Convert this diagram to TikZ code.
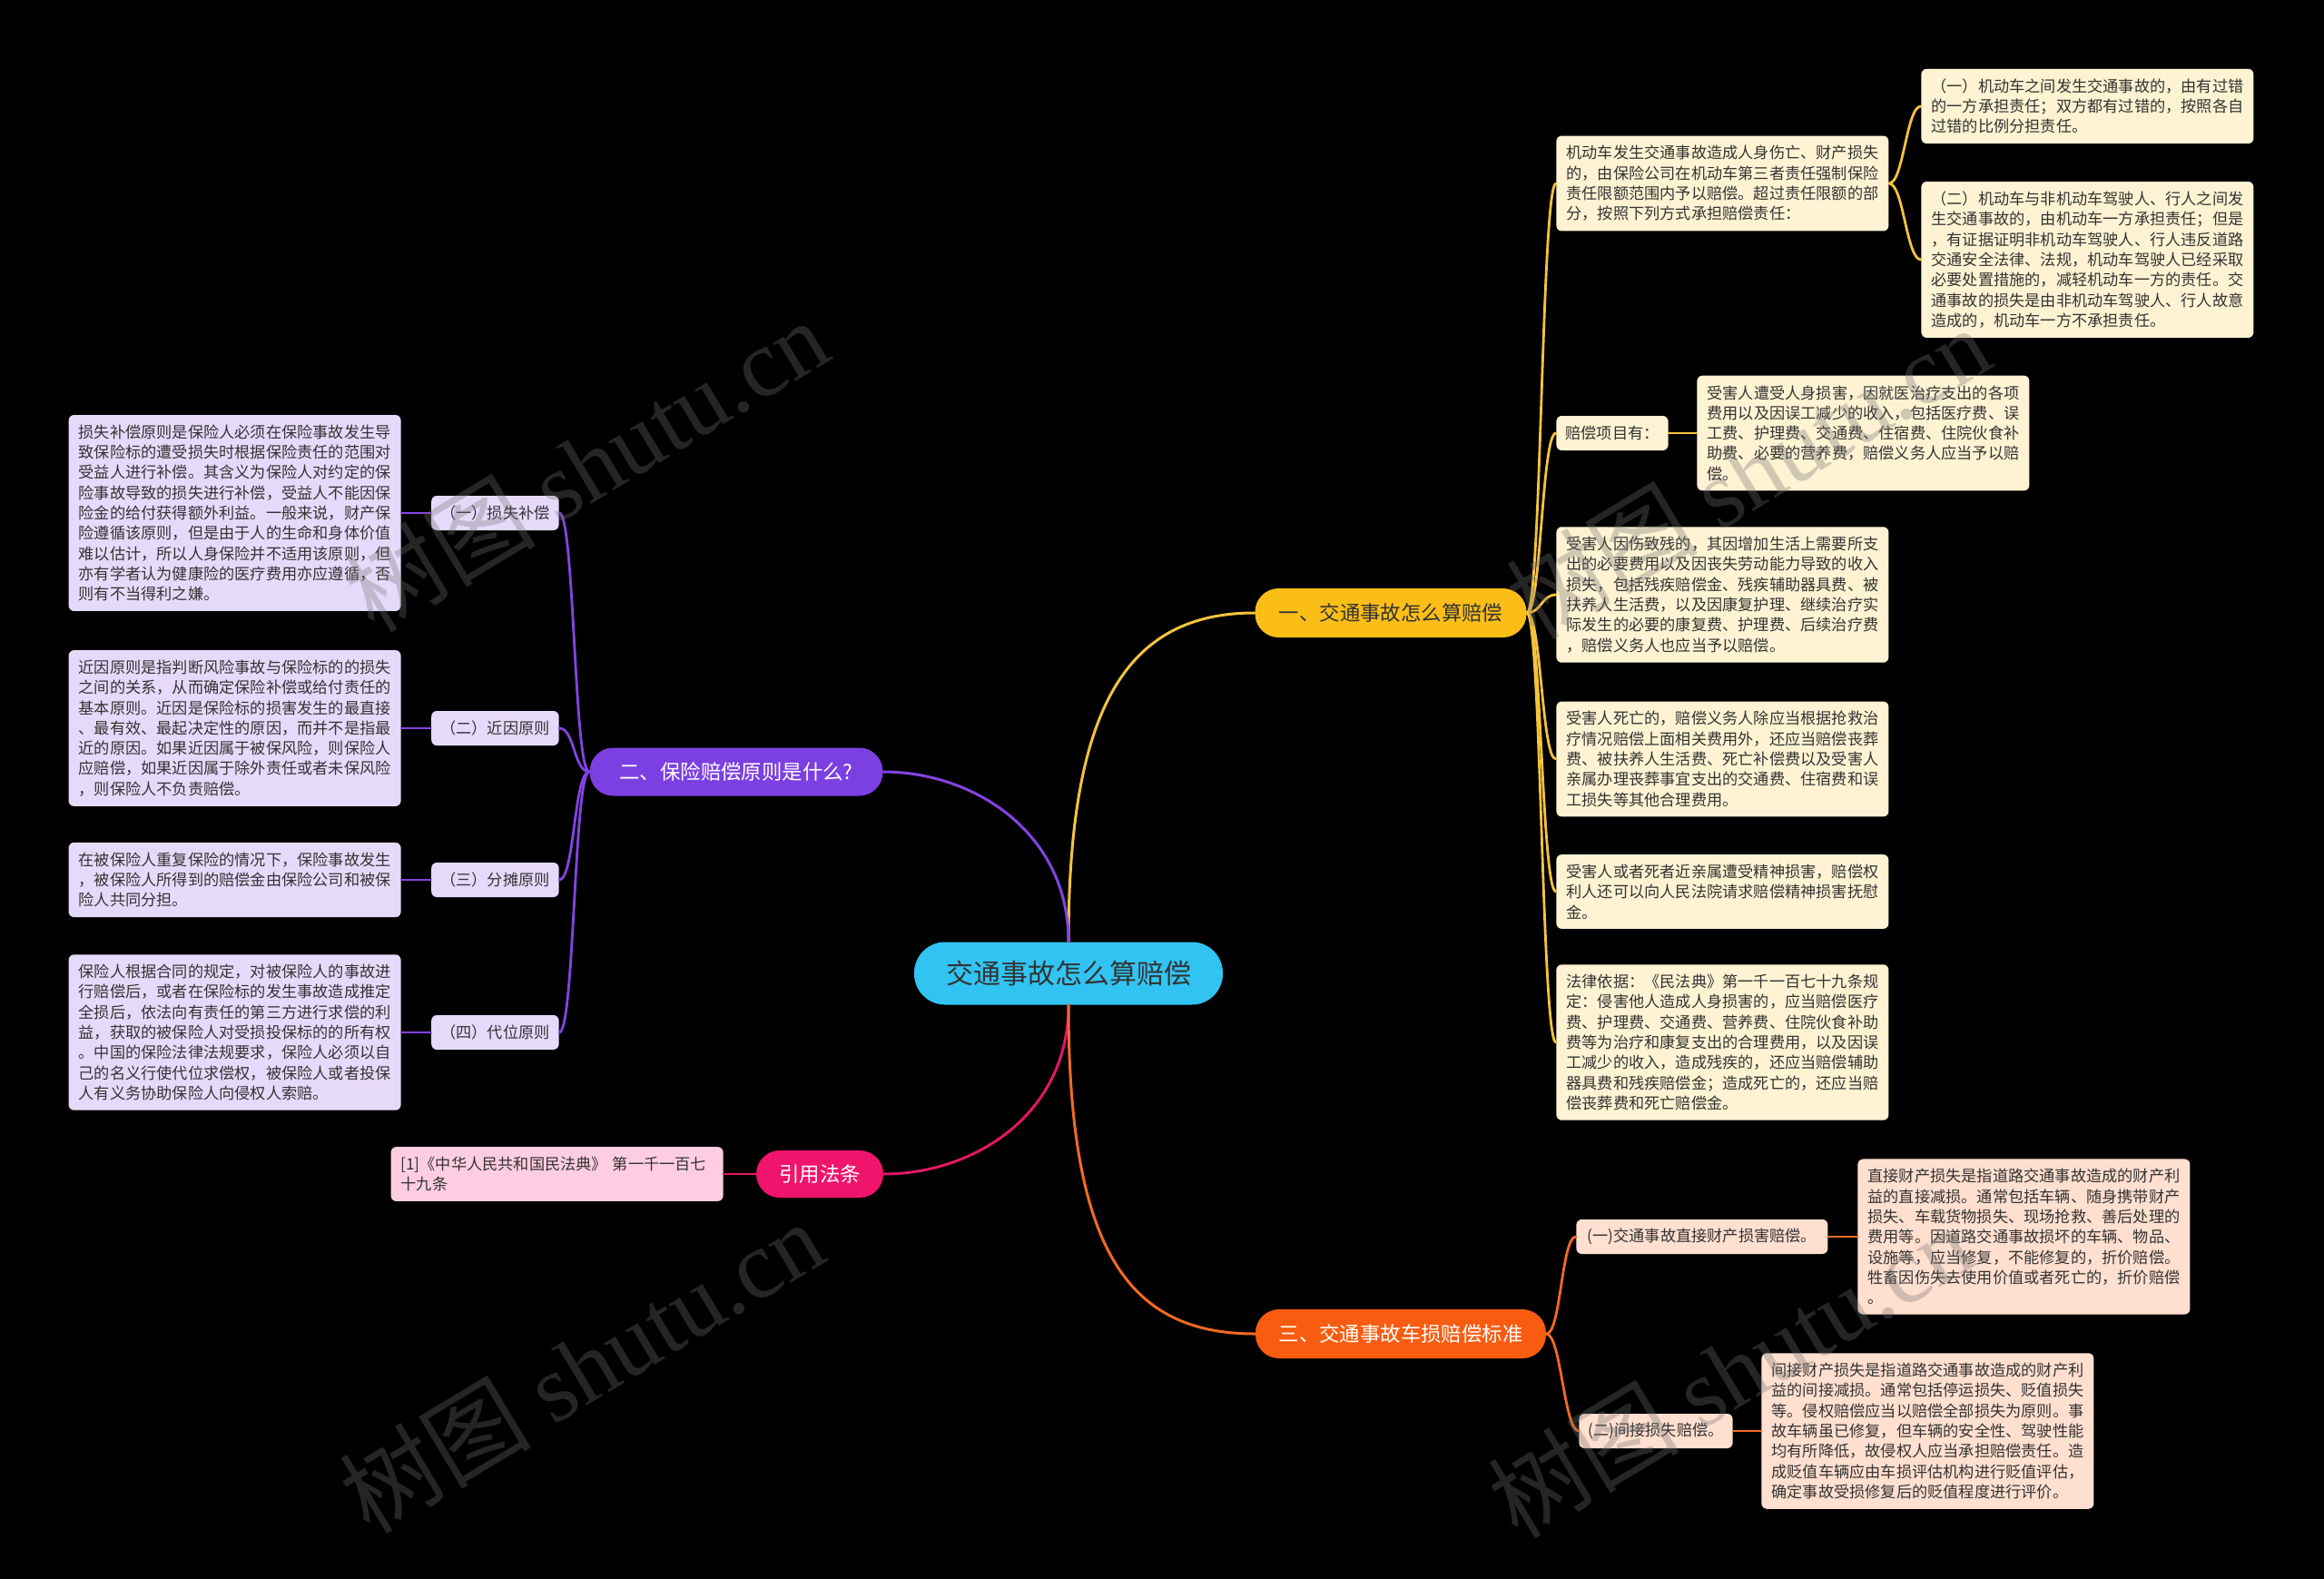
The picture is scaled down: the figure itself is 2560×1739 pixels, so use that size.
\documentclass[tikz,border=0pt]{standalone}
\usepackage{fontspec}
\setmainfont{Noto Sans CJK SC}
\newfontfamily\wmlatin{Liberation Serif}
\definecolor{cc}{HTML}{31C4F3}
\definecolor{yA}{HTML}{FBBE17}
\definecolor{yL}{HTML}{F5C33C}
\definecolor{yF}{HTML}{FFF3D3}
\definecolor{pA}{HTML}{7C3FE2}
\definecolor{pL}{HTML}{8443E3}
\definecolor{pF}{HTML}{E6DAFA}
\definecolor{rA}{HTML}{F0146C}
\definecolor{rL}{HTML}{E21864}
\definecolor{rF}{HTML}{FFCDE1}
\definecolor{oA}{HTML}{F95C10}
\definecolor{oL}{HTML}{F26A22}
\definecolor{oF}{HTML}{FFDFCF}
\definecolor{td}{HTML}{333333}
\begin{document}
\begin{tikzpicture}[x=0.5pt,y=-0.5pt,
  detail/.style={rounded corners=3pt, align=left, text width=172pt, inner xsep=5.5pt, inner ysep=5.4pt, font=\fontsize{8.6pt}{11.15pt}\selectfont, text=td},
  lbl/.style={rounded corners=3pt, inner xsep=5pt, inner ysep=0pt, minimum height=19pt, font=\fontsize{8.6pt}{10pt}\selectfont, text=td},
  mainbox/.style={inner sep=0pt},
  brfont/.style={font=\fontsize{11.2pt}{12pt}\selectfont},
  conn/.style={line width=1.5pt, line cap=round},
  sub/.style={line width=1.4pt, line cap=round},
  wm/.style={rotate=31, text=white!45!black, text opacity=0.33, font=\fontsize{53pt}{53pt}\selectfont}]
\fill[black] (0,0) rectangle (2560,1739);
\useasboundingbox (0,0) rectangle (2560,1739);

% main nodes
\node[mainbox, fill=cc, minimum width=170pt, minimum height=34.5pt, rounded corners=17pt, font=\fontsize{15pt}{15pt}\selectfont, text=td] (C) at (1177,1072) {交通事故怎么算赔偿};
\node[mainbox, brfont, fill=yA, minimum width=149.5pt, minimum height=27pt, rounded corners=13pt, text=td] (B1) at (1532,675) {一、交通事故怎么算赔偿};
\node[mainbox, brfont, fill=pA, minimum width=161.5pt, minimum height=26.5pt, rounded corners=13pt, text=white] (B2) at (811,850) {二、保险赔偿原则是什么?};
\node[mainbox, brfont, fill=rA, minimum width=70pt, minimum height=26pt, rounded corners=13pt, text=white] (B3) at (903,1293) {引用法条};
\node[mainbox, brfont, fill=oA, minimum width=160pt, minimum height=27pt, rounded corners=13pt, text=white] (B4) at (1543,1469) {三、交通事故车损赔偿标准};

% branch 1
\node[detail, fill=yF, anchor=west] (c11) at (1714,202) {机动车发生交通事故造成人身伤亡、财产损失\\的，由保险公司在机动车第三者责任强制保险\\责任限额范围内予以赔偿。超过责任限额的部\\分，按照下列方式承担赔偿责任：};
\node[detail, fill=yF, anchor=west] (c111) at (2116,117) {（一）机动车之间发生交通事故的，由有过错\\的一方承担责任；双方都有过错的，按照各自\\过错的比例分担责任。};
\node[detail, fill=yF, anchor=west] (c112) at (2116,286) {（二）机动车与非机动车驾驶人、行人之间发\\生交通事故的，由机动车一方承担责任；但是\\，有证据证明非机动车驾驶人、行人违反道路\\交通安全法律、法规，机动车驾驶人已经采取\\必要处置措施的，减轻机动车一方的责任。交\\通事故的损失是由非机动车驾驶人、行人故意\\造成的，机动车一方不承担责任。};
\node[lbl, fill=yF, anchor=west] (c12) at (1714,477) {赔偿项目有：};
\node[detail, fill=yF, anchor=west] (c121) at (1869,477) {受害人遭受人身损害，因就医治疗支出的各项\\费用以及因误工减少的收入，包括医疗费、误\\工费、护理费、交通费、住宿费、住院伙食补\\助费、必要的营养费，赔偿义务人应当予以赔\\偿。};
\node[detail, fill=yF, anchor=west] (c13) at (1714,655) {受害人因伤致残的，其因增加生活上需要所支\\出的必要费用以及因丧失劳动能力导致的收入\\损失，包括残疾赔偿金、残疾辅助器具费、被\\扶养人生活费，以及因康复护理、继续治疗实\\际发生的必要的康复费、护理费、后续治疗费\\，赔偿义务人也应当予以赔偿。};
\node[detail, fill=yF, anchor=west] (c14) at (1714,836) {受害人死亡的，赔偿义务人除应当根据抢救治\\疗情况赔偿上面相关费用外，还应当赔偿丧葬\\费、被扶养人生活费、死亡补偿费以及受害人\\亲属办理丧葬事宜支出的交通费、住宿费和误\\工损失等其他合理费用。};
\node[detail, fill=yF, anchor=west] (c15) at (1714,982) {受害人或者死者近亲属遭受精神损害，赔偿权\\利人还可以向人民法院请求赔偿精神损害抚慰\\金。};
\node[detail, fill=yF, anchor=west] (c16) at (1714,1148) {法律依据：《民法典》第一千一百七十九条规\\定：侵害他人造成人身损害的，应当赔偿医疗\\费、护理费、交通费、营养费、住院伙食补助\\费等为治疗和康复支出的合理费用，以及因误\\工减少的收入，造成残疾的，还应当赔偿辅助\\器具费和残疾赔偿金；造成死亡的，还应当赔\\偿丧葬费和死亡赔偿金。};

% branch 2
\node[lbl, fill=pF, anchor=east] (c21) at (616,565) {（一）损失补偿};
\node[detail, fill=pF, anchor=east] (t21) at (442,565) {损失补偿原则是保险人必须在保险事故发生导\\致保险标的遭受损失时根据保险责任的范围对\\受益人进行补偿。其含义为保险人对约定的保\\险事故导致的损失进行补偿，受益人不能因保\\险金的给付获得额外利益。一般来说，财产保\\险遵循该原则，但是由于人的生命和身体价值\\难以估计，所以人身保险并不适用该原则，但\\亦有学者认为健康险的医疗费用亦应遵循，否\\则有不当得利之嫌。};
\node[lbl, fill=pF, anchor=east] (c22) at (616,802) {（二）近因原则};
\node[detail, fill=pF, anchor=east] (t22) at (442,802) {近因原则是指判断风险事故与保险标的的损失\\之间的关系，从而确定保险补偿或给付责任的\\基本原则。近因是保险标的损害发生的最直接\\、最有效、最起决定性的原因，而并不是指最\\近的原因。如果近因属于被保风险，则保险人\\应赔偿，如果近因属于除外责任或者未保风险\\，则保险人不负责赔偿。};
\node[lbl, fill=pF, anchor=east] (c23) at (616,969) {（三）分摊原则};
\node[detail, fill=pF, anchor=east] (t23) at (442,969) {在被保险人重复保险的情况下，保险事故发生\\，被保险人所得到的赔偿金由保险公司和被保\\险人共同分担。};
\node[lbl, fill=pF, anchor=east] (c24) at (616,1137) {（四）代位原则};
\node[detail, fill=pF, anchor=east] (t24) at (442,1137) {保险人根据合同的规定，对被保险人的事故进\\行赔偿后，或者在保险标的发生事故造成推定\\全损后，依法向有责任的第三方进行求偿的利\\益，获取的被保险人对受损投保标的的所有权\\。中国的保险法律法规要求，保险人必须以自\\己的名义行使代位求偿权，被保险人或者投保\\人有义务协助保险人向侵权人索赔。};

% branch 3 (citation)
\node[detail, fill=rF, anchor=east] (t3) at (797,1293) {[1]《中华人民共和国民法典》 第一千一百七\\十九条};

% branch 4
\node[lbl, fill=oF, anchor=west, minimum width=138.5pt] (c41) at (1736,1362) {(一)交通事故直接财产损害赔偿。};
\node[detail, fill=oF, anchor=west] (t41) at (2046,1362) {直接财产损失是指道路交通事故造成的财产利\\益的直接减损。通常包括车辆、随身携带财产\\损失、车载货物损失、现场抢救、善后处理的\\费用等。因道路交通事故损坏的车辆、物品、\\设施等，应当修复，不能修复的，折价赔偿。\\牲畜因伤失去使用价值或者死亡的，折价赔偿\\。};
\node[lbl, fill=oF, anchor=west, minimum width=82.5pt] (c42) at (1739,1576) {(二)间接损失赔偿。};
\node[detail, fill=oF, anchor=west] (t42) at (1940,1576) {间接财产损失是指道路交通事故造成的财产利\\益的间接减损。通常包括停运损失、贬值损失\\等。侵权赔偿应当以赔偿全部损失为原则。事\\故车辆虽已修复，但车辆的安全性、驾驶性能\\均有所降低，故侵权人应当承担赔偿责任。造\\成贬值车辆应由车损评估机构进行贬值评估，\\确定事故受损修复后的贬值程度进行评价。};

% connectors center -> branches
\draw[conn, yL] (C.north) .. controls +(0,-260) and +(-140,0) .. (B1.west);
\draw[conn, pL] (C.north) .. controls +(0,-120) and +(100,0) .. (B2.east);
\draw[conn, rL] (C.south) .. controls +(0,120) and +(100,0) .. (B3.east);
\draw[conn, oL] (C.south) .. controls +(0,270) and +(-140,0) .. (B4.west);

% branch 1 connectors
\foreach \n in {c11,c12,c13,c14,c15,c16}
  \draw[sub, yL] (B1.east) .. controls +(16,0) and +(-16,0) .. (\n.west);
\draw[sub, yL] (c11.east) .. controls +(16,0) and +(-16,0) .. (c111.west);
\draw[sub, yL] (c11.east) .. controls +(16,0) and +(-16,0) .. (c112.west);
\draw[sub, yL] (c12.east) -- (c121.west);

% branch 2 connectors
\foreach \n/\t in {c21/t21,c22/t22,c23/t23,c24/t24}{
  \draw[sub, pL] (B2.west) .. controls +(-17,0) and +(17,0) .. (\n.east);
  \draw[sub, pL] (\n.west) -- (\t.east);
}

% branch 3 connector
\draw[sub, rL] (B3.west) -- (t3.east);

% branch 4 connectors
\draw[sub, oL] (B4.east) .. controls +(16,0) and +(-16,0) .. (c41.west);
\draw[sub, oL] (B4.east) .. controls +(16,0) and +(-16,0) .. (c42.west);
\draw[sub, oL] (c41.east) -- (t41.west);
\draw[sub, oL] (c42.east) -- (t42.west);

% watermarks
\node[wm] (wm1) at (645,512) {树图 {\wmlatin shutu.cn}};
\node[wm] (wm2) at (640,1505) {树图 {\wmlatin shutu.cn}};
\node[wm] (wm3) at (1925,520) {树图 {\wmlatin shutu.cn}};
\node[wm] (wm4) at (1905,1510) {树图 {\wmlatin shutu.cn}};
\end{tikzpicture}
\end{document}
